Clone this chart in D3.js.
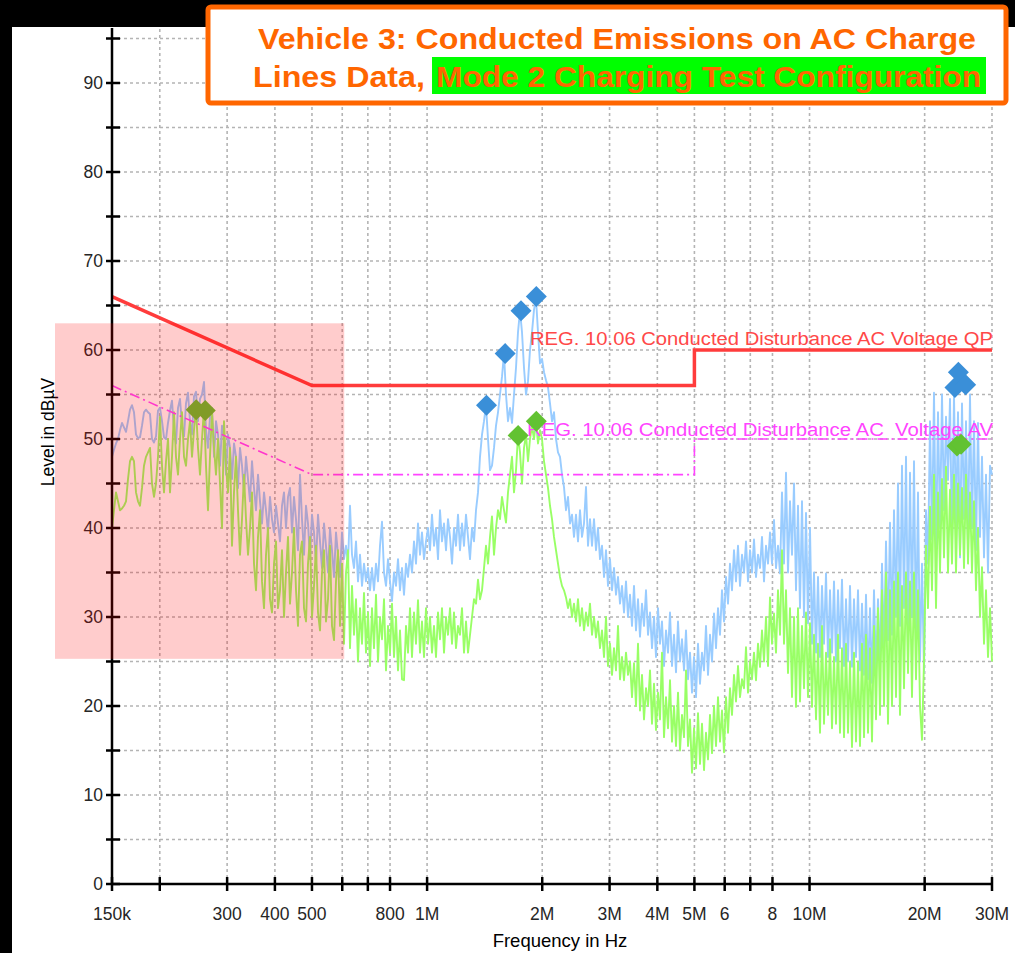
<!DOCTYPE html>
<html>
<head>
<meta charset="utf-8">
<script src="https://cdn.jsdelivr.net/npm/d3@7"></script>
<style>
  html, body { margin: 0; padding: 0; background: #000; }
  svg { display: block; }
  text { font-family: "Liberation Sans", Arial, sans-serif; }
</style>
</head>
<body>
<svg id="chart" width="1015" height="953"></svg>
<script>
// ---- Sweep readings (dBµV), one value per sweep step, 150 kHz .. 30 MHz, log-stepped ----
const peakLevels = [
  48, 48.8, 49.5, 50, 51, 51.8, 51.3, 50.8, 52, 53.3,
  53.8, 53, 50.5, 50.1, 50.2, 51.5, 53, 53.3, 53, 52.8,
  50, 49.6, 50.3, 53.2, 53.5, 52, 50.2, 50, 51.8, 53.2,
  54.3, 51, 49.5, 53.5, 54.5, 51.5, 50.3, 54, 55.2, 52,
  50.5, 54.8, 55.3, 52, 54.5, 55, 56.4, 51, 49, 52.5,
  53.5, 48, 52, 50.5, 47, 51.5, 50, 46, 50.5, 49,
  45.5, 49.5, 48, 44.5, 49, 47, 44, 48, 45.5, 43,
  47.5, 44.5, 42, 46, 43, 40.5, 44, 42, 39.5, 43.5,
  41, 39.5, 42.5, 40.5, 38.5, 42.5, 44, 40, 43.5, 44.5,
  39.5, 43.5, 41, 37.5, 46, 41, 37, 42.5, 40.5, 36.5,
  41.5, 39.5, 36, 41.5, 38.5, 35.5, 40.5, 38, 35, 40,
  37.5, 34.5, 39.5, 37, 34.5, 39.5, 36.5, 38, 36, 42.5,
  37, 35.5, 38.5, 34, 37, 33.5, 36, 34, 35.5, 33,
  35.5, 33, 36, 34, 38, 40.7, 35, 33.5, 36.5, 34,
  31.8, 35, 33.5, 36.5, 33, 35.5, 32.5, 36, 34.5, 37,
  35, 38.5, 36, 40.5, 37, 39.5, 36.5, 38.5, 40, 37.5,
  41.5, 38, 40, 36.5, 42, 38.5, 40.5, 37.5, 41, 39,
  36, 40, 38, 41.5, 37.5, 40.5, 38, 41.5, 39, 36.5,
  40, 38.5, 42, 44, 48, 50.5, 52, 53.8, 50, 46.5,
  47, 49, 51.5, 53, 55, 57, 59.6, 55, 52, 53.5,
  51.8, 55, 58, 62, 64.4, 62, 58, 55, 56.5, 60,
  62, 64.5, 65.8, 62, 58.5, 59, 57.5, 56.6, 55.8, 54,
  52, 53, 50, 48.5, 48, 46, 44.6, 42, 43.5, 40.5,
  41.5, 39, 41.5, 38.5, 42, 39, 40.5, 44.6, 38, 41,
  38, 41, 37.5, 40, 36.5, 38, 34.5, 37.5, 33.5, 36.5,
  33, 35.5, 32.5, 34.5, 31.5, 33.5, 30.5, 34, 30, 32.5,
  29, 33.5, 28.5, 32, 27.8, 31.5, 29, 33, 28, 30.5,
  26.5, 30, 25.5, 31, 27, 29.5, 24.5, 28.5, 26, 30.5,
  24.5, 28, 23.8, 29.5, 25, 27.5, 24, 28.5, 23, 26,
  21.5, 25.5, 21, 27, 22.5, 26, 24, 29, 23.5, 28,
  25, 30.4, 26.5, 31, 28, 33, 29.5, 34.5, 31.5, 36,
  33, 37.5, 34, 38, 33.5, 37, 35, 38.5, 34, 37.5,
  35, 38.7, 34.5, 37, 35.5, 39, 34, 38, 36, 39.5,
  36, 40.9, 35.5, 38, 34.9, 44, 36, 46.2, 35, 43,
  37, 45, 33, 42.5, 31, 43, 30, 41.7, 29.3, 40,
  27, 35, 26, 34.5, 25.5, 33.5, 27, 34.9, 25.5, 33,
  26, 34, 25, 33, 26.5, 34.2, 24.5, 32, 25, 33.5,
  24.4, 32, 25.5, 33, 24, 31.5, 23.5, 32.5, 23, 31,
  22.6, 33, 23.5, 32, 24, 36, 26, 38.5, 27.4, 40.6,
  28, 42, 30, 45, 29, 47, 31, 48, 28.5, 46.2,
  30, 47.5, 27.4, 44, 25, 36, 23.7, 42, 36, 52,
  38.7, 55.2, 37, 53, 40, 55, 42, 52.5, 45.4, 54.5,
  38, 55, 40, 53, 36.7, 54, 41, 52, 38, 55,
  40, 52, 37.5, 51.8, 39, 48, 36.7, 46, 35, 47,
  46
];

const averageLevels = [
  40, 42, 44, 43, 42, 42.2, 42.5, 43, 45.5, 47.5,
  48, 47.5, 44, 43, 42.5, 44.5, 47, 48, 48.5, 49,
  45, 43.5, 45, 48, 52.5, 47, 44, 47.5, 50, 44,
  48, 53, 48, 46, 50, 53, 48, 47, 50, 52,
  48, 51, 53.5, 49, 46, 50, 53.5, 47, 42, 48,
  53, 49, 46, 50, 45, 40, 52, 47, 44, 49,
  38, 44, 48, 42, 37, 41, 46, 41, 37, 40,
  44, 36, 33, 39, 42, 34, 31, 37, 40, 32,
  30.5, 36, 38.5, 31, 33, 37.5, 30, 35, 39, 31.5,
  35, 40, 33, 29, 37, 38.5, 31, 29.5, 36, 39,
  30, 33.5, 38, 30.5, 28.5, 35, 37.5, 29.5, 32, 38,
  29, 27.4, 34, 37.5, 29, 36, 27, 35, 37.5, 26.5,
  33.5, 28, 32, 25, 31, 27, 32.7, 26, 30.5, 24.5,
  31, 26.5, 32.5, 25, 30, 27.5, 32, 24, 29, 26,
  31.5, 25.5, 30, 24, 28.5, 23, 22.9, 29, 26, 31,
  25.5, 30.5, 27, 31.9, 26, 29.5, 25.5, 31, 27, 30,
  26, 29, 25.5, 30.5, 27.5, 31, 26, 30, 28, 31,
  27, 30.5, 26.5, 29, 28, 31, 26, 29.5, 26, 28,
  30, 32, 31.5, 34.2, 32, 33, 35.5, 38, 36, 39,
  41.3, 37, 40, 42, 41, 43.5, 42, 40.6, 44, 46,
  48, 44, 46.5, 50.4, 48.5, 45, 49, 50.5, 47.5, 50,
  51.5, 50, 52, 49.5, 51, 50, 47.5, 46, 44.5, 42.5,
  41, 39, 37.5, 36, 34.5, 33.5, 33, 32.2, 31, 32,
  30, 31.5, 29.5, 32, 29, 31, 28.5, 30.5, 29, 31.5,
  28, 30, 27.7, 29.5, 26.5, 28.5, 25.5, 30, 24.5, 27,
  23.5, 26.5, 24, 29, 23, 25.5, 22.9, 26, 23.5, 25,
  21, 24.8, 20, 27, 19.5, 23.5, 18.5, 22, 20, 24,
  18, 22.5, 17.3, 21.5, 18.5, 26, 16.5, 21, 17.5, 22.9,
  16, 20, 15.5, 21.5, 15, 19, 16.5, 24, 15.5, 18.5,
  12.5, 17.5, 13, 19.2, 13.5, 18, 12.8, 17, 14, 19,
  14.7, 20, 15.5, 21, 16, 19.5, 14.8, 21, 17, 22,
  19, 23.5, 20.5, 24.5, 21, 23, 22, 26.6, 21.5, 25,
  23, 26, 22.9, 27, 24.4, 28.5, 25, 30, 24.5, 32.2,
  27, 30.4, 26, 33, 28, 37.5, 27, 33, 23.7, 31,
  21, 30, 19.9, 31, 20.5, 29, 22, 30.5, 21, 29.3,
  19.9, 28, 18.5, 27, 17, 29, 18, 26, 19, 27.5,
  17.5, 25.5, 18, 28, 17, 26.5, 16.5, 27, 17, 25,
  15.4, 26, 16, 25, 15.5, 27, 16.5, 28, 17, 26.5,
  16, 29, 18.5, 31, 19, 33, 20, 35, 18, 33,
  20, 34, 21, 35, 19, 33.5, 22, 35, 23.7, 34,
  21, 35, 23, 33, 20, 16.2, 25, 38, 31, 42.4,
  33, 46, 31, 44, 35, 45.5, 36.7, 46.9, 35, 44.3,
  36, 46, 35, 45, 37, 44.5, 35.5, 46, 36, 44,
  35, 43, 33, 40, 30, 35.6, 27, 33, 25.5, 31,
  25
];

// ---- Limit lines ----
const qpLimitFreq  = [150e3, 500e3, 5e6, 5e6, 30e6];
const qpLimitLevel = [66, 56, 56, 60, 60];
const avLimitFreq  = [150e3, 500e3, 5e6, 5e6, 30e6];
const avLimitLevel = [56, 46, 46, 50, 50];

// ---- Final measurement points ----
const qpPeakFreq  = [1.43e6, 1.60e6, 1.76e6, 1.93e6, 24.0e6, 24.5e6, 25.6e6];
const qpPeakLevel = [53.8, 59.6, 64.4, 66.0, 55.8, 57.5, 56.1];
const avPeakFreq  = [249e3, 263e3, 1.73e6, 1.93e6, 24.3e6, 24.9e6];
const avPeakLevel = [53.3, 53.2, 50.4, 52.0, 49.2, 49.4];

// ---- Axis ticks ----
const xTickFreq  = [150e3, 200e3, 300e3, 400e3, 500e3, 600e3, 700e3, 800e3, 1e6,
                    2e6, 3e6, 4e6, 5e6, 6e6, 7e6, 8e6, 10e6, 20e6, 30e6];
const xTickLabel = ["150k", "", "300", "400", "500", "", "", "800", "1M",
                    "2M", "3M", "4M", "5M", "6", "", "8", "10M", "20M", "30M"];
const yTicks = d3.range(0, 96, 5);

// ---- Highlighted region (frequency stop, level span) ----
const zoneStopFreq = 600e3;
const zoneLevels = [25.3, 63.0];

const svg = d3.select("#chart");
const W = 1015, H = 953;

// panel
svg.append("rect").attr("x", 12).attr("y", 27).attr("width", W - 12).attr("height", H - 27).attr("fill", "#fff");

const x = d3.scaleLog().domain([150e3, 30e6]).range([112, 992]);
const y = d3.scaleLinear().domain([0, 90]).range([884, 83]);

// sweep frequencies
const sweep = n => d3.range(n).map(i => 150e3 * Math.pow(200, i / (n - 1)));
const peakF = sweep(peakLevels.length);
const avgF = sweep(averageLevels.length);

// grid
const grid = svg.append("g").attr("stroke", "#b4b4b4").attr("stroke-width", 1.6).attr("stroke-dasharray", "3,3");
grid.selectAll(".h").data(yTicks.filter(v => v > 0)).join("line")
  .attr("x1", x.range()[0]).attr("x2", x.range()[1])
  .attr("y1", d => y(d)).attr("y2", d => y(d));
grid.selectAll(".v").data(xTickFreq.slice(1)).join("line")
  .attr("x1", d => x(d)).attr("x2", d => x(d))
  .attr("y1", y(0)).attr("y2", 29);

const line = d3.line().x(d => x(d[0])).y(d => y(d[1]));

// traces
svg.append("path").datum(peakF.map((f, i) => [f, peakLevels[i]]))
  .attr("d", line).attr("fill", "none").attr("stroke", "#99ccff").attr("stroke-width", 1.9)
  .attr("stroke-linejoin", "round");
svg.append("path").datum(avgF.map((f, i) => [f, averageLevels[i]]))
  .attr("d", line).attr("fill", "none").attr("stroke", "#99ff66").attr("stroke-width", 1.9)
  .attr("stroke-linejoin", "round");

// limits
svg.append("path").datum(qpLimitFreq.map((f, i) => [f, qpLimitLevel[i]]))
  .attr("d", line).attr("fill", "none").attr("stroke", "#ff3c3c").attr("stroke-width", 3.5);
svg.append("path").datum(avLimitFreq.map((f, i) => [f, avLimitLevel[i]]))
  .attr("d", line).attr("fill", "none").attr("stroke", "#ff44ff").attr("stroke-width", 1.6)
  .attr("stroke-dasharray", "10,4,2,4");

svg.append("text").attr("x", 530).attr("y", y(60) - 5)
  .attr("font-size", 18).attr("fill", "#ff4848").attr("textLength", 463).attr("lengthAdjust", "spacingAndGlyphs")
  .text("REG. 10.06 Conducted Disturbance AC Voltage QP");
svg.append("text").attr("x", 527).attr("y", y(50) - 3)
  .attr("font-size", 18).attr("fill", "#ff44ff").attr("textLength", 466).attr("lengthAdjust", "spacingAndGlyphs")
  .style("white-space", "pre")
  .text("REG. 10.06 Conducted Disturbance AC  Voltage AV");

// markers
const diamond = "M0,-10.5L10.5,0L0,10.5L-10.5,0Z";
svg.append("g").selectAll("path").data(qpPeakFreq.map((f, i) => [f, qpPeakLevel[i]])).join("path")
  .attr("d", diamond).attr("transform", d => `translate(${x(d[0])},${y(d[1])})`).attr("fill", "#3a8fd8");
svg.append("g").selectAll("path").data(avPeakFreq.map((f, i) => [f, avPeakLevel[i]])).join("path")
  .attr("d", diamond).attr("transform", d => `translate(${x(d[0])},${y(d[1])})`).attr("fill", "#62c232");

// axes
const axes = svg.append("g").attr("stroke", "#000");
axes.append("line").attr("x1", x.range()[0]).attr("x2", x.range()[0]).attr("y1", 28).attr("y2", y(0)).attr("stroke-width", 2.5);
axes.append("line").attr("x1", x.range()[0]).attr("x2", x.range()[1]).attr("y1", y(0)).attr("y2", y(0)).attr("stroke-width", 2.5);
axes.selectAll(".yt").data(yTicks).join("line")
  .attr("x1", x.range()[0] - 6).attr("x2", x.range()[0] + 8)
  .attr("y1", d => y(d)).attr("y2", d => y(d)).attr("stroke-width", 2.5);
axes.selectAll(".xt").data(xTickFreq).join("line")
  .attr("x1", d => x(d)).attr("x2", d => x(d))
  .attr("y1", y(0) - 7).attr("y2", y(0) + 7).attr("stroke-width", 2.5);

svg.append("g").selectAll("text").data(yTicks.filter(v => v % 10 === 0)).join("text")
  .attr("x", 103).attr("y", d => y(d)).attr("dy", "0.36em").attr("text-anchor", "end")
  .attr("font-size", 17.5).attr("fill", "#262626").text(d => d);
svg.append("g").selectAll("text").data(xTickFreq.map((f, i) => [f, xTickLabel[i]]).filter(d => d[1])).join("text")
  .attr("x", d => x(d[0])).attr("y", 920).attr("text-anchor", "middle")
  .attr("font-size", 17.5).attr("fill", "#262626").text(d => d[1]);

svg.append("text").attr("transform", "translate(54,432) rotate(-90)").attr("text-anchor", "middle")
  .attr("font-size", 17.5).attr("fill", "#000").text("Level in dBµV");
svg.append("text").attr("x", 560).attr("y", 947).attr("text-anchor", "middle")
  .attr("font-size", 18.5).attr("fill", "#000").text("Frequency in Hz");

// highlighted low-frequency region
svg.append("rect")
  .attr("x", 55).attr("y", y(zoneLevels[1]))
  .attr("width", x(zoneStopFreq) + 2 - 55).attr("height", y(zoneLevels[0]) - y(zoneLevels[1]))
  .attr("fill", "rgb(255,0,0)").attr("fill-opacity", 0.2);

// title box
const tb = svg.append("g");
tb.append("rect").attr("x", 208).attr("y", 7).attr("width", 798).attr("height", 96).attr("rx", 3)
  .attr("fill", "#fff").attr("stroke", "#ff6600").attr("stroke-width", 5);
tb.append("rect").attr("x", 432).attr("y", 57).attr("width", 554).attr("height", 37).attr("fill", "#00ff00");
tb.append("text").attr("x", 258).attr("y", 49).attr("font-size", 29).attr("font-weight", "bold")
  .attr("fill", "#ff6600").attr("textLength", 718).attr("lengthAdjust", "spacingAndGlyphs")
  .text("Vehicle 3: Conducted Emissions on AC Charge");
tb.append("text").attr("x", 253).attr("y", 87).attr("font-size", 29).attr("font-weight", "bold")
  .attr("fill", "#ff6600").attr("textLength", 172).attr("lengthAdjust", "spacingAndGlyphs")
  .text("Lines Data,");
tb.append("text").attr("x", 436).attr("y", 87).attr("font-size", 29).attr("font-weight", "bold")
  .attr("fill", "#ff6600").attr("textLength", 545).attr("lengthAdjust", "spacingAndGlyphs")
  .text("Mode 2 Charging Test Configuration");
</script>
</body>
</html>
